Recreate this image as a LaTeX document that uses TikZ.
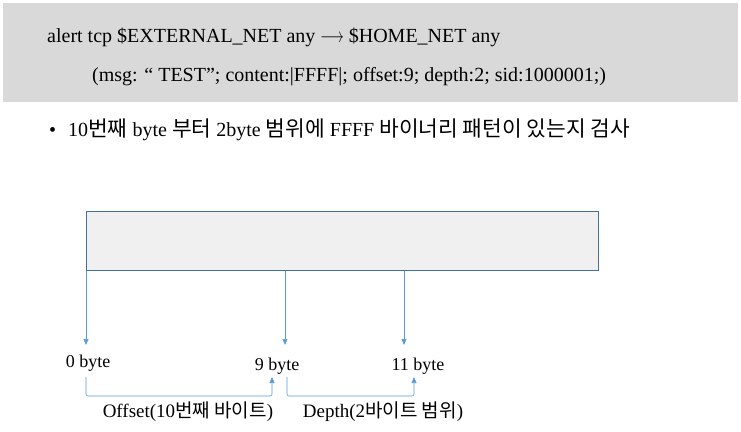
\documentclass[tikz,border=0pt]{standalone}
\usepackage{fontspec}
\setmainfont{Liberation Serif}
\newfontfamily\kr{Noto Sans CJK KR}
\newfontfamily\krnote{Noto Sans CJK KR}[Scale=1.07]
\usetikzlibrary{positioning, arrows.meta}
\definecolor{bandGray}{HTML}{D9D9D9}
\definecolor{boxFill}{HTML}{F0F0F0}
\definecolor{boxLine}{HTML}{41719C}
\definecolor{arrowBlue}{HTML}{5B9BD5}
\newcommand{\ko}[1]{{\kr #1}}
\newcommand{\kn}[1]{{\krnote #1}}

\begin{document}
\begin{tikzpicture}[x=1pt, y=-1pt,
  every node/.style={inner sep=0pt, text=black},
  ruletxt/.style={font=\fontsize{20}{22}\selectfont, anchor=west},
  bytelbl/.style={font=\fontsize{18}{20}\selectfont},
  rangelbl/.style={font=\fontsize{19}{21}\selectfont},
  memory/.style={rectangle, draw=boxLine, fill=boxFill, line width=0.8pt,
              minimum width=512pt, minimum height=59pt, anchor=north west},
  pointer/.style={-{Triangle[length=6pt, width=5pt]}, draw=arrowBlue,
              line width=0.6pt},
  span/.style={pointer, rounded corners=2pt},
]
  \useasboundingbox (0,0) rectangle (741,431);

  % rule band
  \fill[bandGray] (3,3) rectangle (738,102);
  \node[ruletxt] at (47,37) (rule1)
        {alert tcp \$EXTERNAL\_NET any \scalebox{0.7}[1]{$\longrightarrow$} \$HOME\_NET any};
  \node[ruletxt] at (92,77) (rule2)
        {(msg: “ TEST”; content:|FFFF|; offset:9; depth:2; sid:1000001;)};

  \node[ruletxt] at (49,130) (note)
        {•\hspace{12pt}10\kn{번째} byte \kn{부터} 2byte \kn{범위에} FFFF \kn{바이너리 패턴이 있는지 검사}};

  % packet payload
  \node[memory] at (86,211) (mem) {};

  \coordinate (tip0)  at (86,345);
  \coordinate (tip9)  at (285,345);
  \coordinate (tip11) at (404,345);

  \node[bytelbl] at (88,363)  (b0)  {0 byte};
  \node[bytelbl] at (277,366) (b9)  {9 byte};
  \node[bytelbl] at (418,366) (b11) {11 byte};

  \draw[pointer] (mem.south west) -- (tip0);
  \draw[pointer] (mem.south -| tip9) -- (tip9);
  \draw[pointer] (mem.south -| tip11) -- (tip11);

  % offset / depth ranges
  \coordinate (offL) at (86,377);
  \coordinate (offR) at (272,377);
  \coordinate (depL) at (287,377);
  \coordinate (depR) at (414,377);

  \draw[span] (offL) -- ++(0,19) -| (offR);
  \draw[span] (depL) -- ++(0,19) -| (depR);

  \node[rangelbl] at (188,412) (offlbl) {Offset(10\ko{번째 바이트})};
  \node[rangelbl] at (383,412) (deplbl) {Depth(2\ko{바이트 범위})};
\end{tikzpicture}
\end{document}
